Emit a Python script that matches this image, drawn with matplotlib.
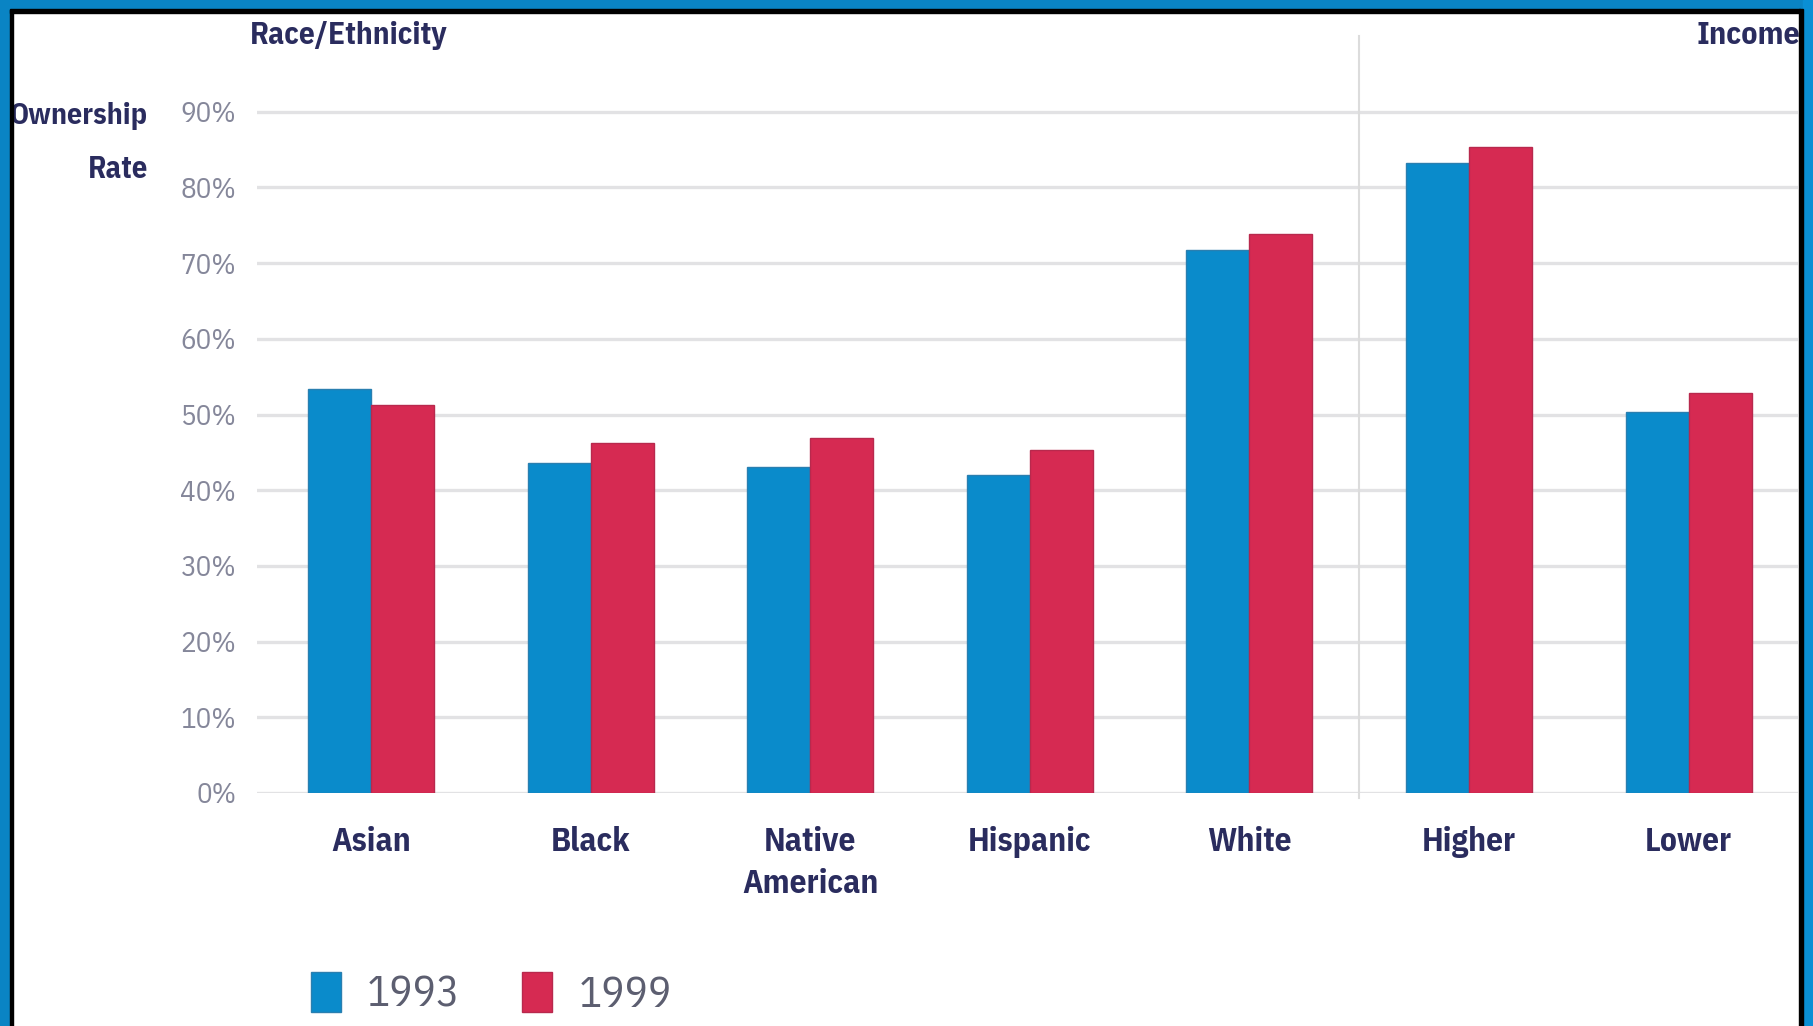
import numpy as np
import matplotlib.pyplot as plt
from matplotlib.patches import Rectangle

categories = ["Asian", "Black", "Native\nAmerican", "Hispanic", "White", "Higher", "Lower"]
rate_1993 = [53.4, 43.6, 43.1, 42.0, 71.7, 83.2, 50.3]
rate_1999 = [51.2, 46.3, 46.9, 45.3, 73.9, 85.3, 52.9]
years = ["1993", "1999"]
yticks = [0, 10, 20, 30, 40, 50, 60, 70, 80, 90]

blue = "#0a8bcb"
red = "#d62a52"
navy = "#2a2c5e"
gray = "#85879a"
narrow = ["IBM Plex Sans Condensed", "DejaVu Sans"]

fig = plt.figure(figsize=(18.13, 10.26), dpi=100)
ax = fig.add_axes([0.1418, 0.2271, 0.9917 - 0.1418, 0.9649 - 0.2271])

x = np.arange(len(categories))
w = 0.287
b1 = ax.bar(x - w / 2, rate_1993, w, color=blue, edgecolor="#2a7fb0", lw=1, zorder=3, label=years[0])
b2 = ax.bar(x + w / 2, rate_1999, w, color=red, edgecolor="#b8294d", lw=1, zorder=3, label=years[1])

ax.set_xlim(-0.519, 6.498)
ax.set_ylim(0, 100)
for t in yticks:
    ax.axhline(t, color="#e2e2e4", lw=2.4, zorder=1)
# divider between race/ethnicity and income groups
ax.axvline(4.5, ymin=-0.007, ymax=1, color="#dcdcdc", lw=1.5, zorder=1, clip_on=False)

ax.set_yticks(yticks)
ax.set_yticklabels([f"{t}%" for t in yticks], family=narrow, fontsize=21, color=gray)
ax.tick_params(axis="y", length=0, pad=15)
ax.set_xticks(x)
ax.set_xticklabels(categories, family=narrow, fontsize=24, fontweight="bold",
                   color=navy, va="top", linespacing=1.4)
ax.tick_params(axis="x", length=0, pad=24)
for s in ax.spines.values():
    s.set_visible(False)

fig.text(148 / 1813, 1 - 116 / 1026, "Ownership", ha="right", va="center",
         family=narrow, fontsize=21.5, fontweight="bold", color=navy)
fig.text(148 / 1813, 1 - 169 / 1026, "Rate", ha="right", va="center",
         family=narrow, fontsize=22, fontweight="bold", color=navy)
fig.text(250 / 1813, 1 - 36 / 1026, "Race/Ethnicity", ha="left", va="center",
         family=narrow, fontsize=22.5, fontweight="bold", color=navy)
fig.text(1800 / 1813, 1 - 36 / 1026, "Income", ha="right", va="center",
         family=narrow, fontsize=23, fontweight="bold", color=navy)

leg = fig.legend(handles=[b1, b2], labels=years, loc="center left",
                 bbox_to_anchor=(272 / 1813, 1 - 994 / 1026), ncol=2, frameon=False,
                 prop={"family": narrow, "size": 31}, handlelength=0.7, handleheight=1.05,
                 handletextpad=0.6, columnspacing=1.45, labelcolor="#5c5e70")

# blue frame around the picture
fig.patches.append(Rectangle((0, 0), 10 / 1813, 1, transform=fig.transFigure, color="#0a84c4", zorder=10))
fig.patches.append(Rectangle((10 / 1813, 0), 3 / 1813, 1 - 9 / 1026, transform=fig.transFigure, color="black", zorder=10))
fig.patches.append(Rectangle((0, 1 - 9 / 1026), 1, 9 / 1026, transform=fig.transFigure, color="#0a84c4", zorder=10))
fig.patches.append(Rectangle((10 / 1813, 1 - 13 / 1026), 1790 / 1813, 4 / 1026, transform=fig.transFigure, color="black", zorder=10))
fig.patches.append(Rectangle((1803 / 1813, 0), 10 / 1813, 1, transform=fig.transFigure, color="#0a8fd4", zorder=10))
fig.patches.append(Rectangle((1799 / 1813, 0), 4 / 1813, 1 - 9 / 1026, transform=fig.transFigure, color="black", zorder=10))

plt.savefig("out.png", dpi=100)
